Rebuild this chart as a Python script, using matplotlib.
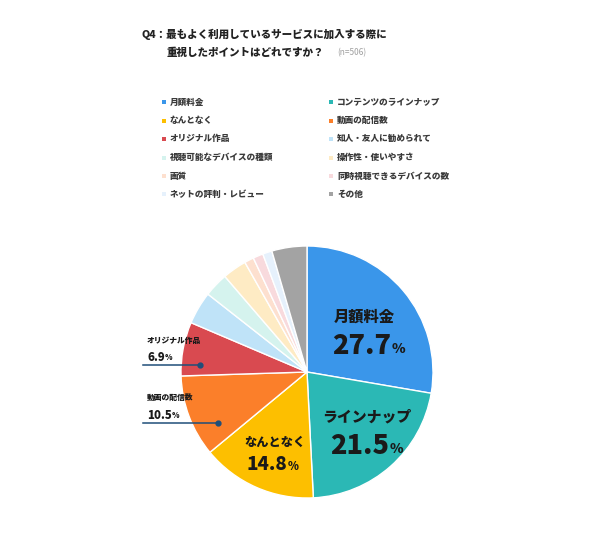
import matplotlib
matplotlib.use("Agg")
import matplotlib.pyplot as plt
from matplotlib.patches import Rectangle

plt.rcParams['font.family'] = ['Noto Sans CJK JP', 'DejaVu Sans']

# ---- data ----
categories = ["月額料金", "コンテンツのラインナップ", "なんとなく", "動画の配信数",
              "オリジナル作品", "知人・友人に勧められて", "視聴可能なデバイスの種類",
              "操作性・使いやすさ", "画質", "同時視聴できるデバイスの数",
              "ネットの評判・レビュー", "その他"]
values = [27.7, 21.5, 14.8, 10.5, 6.9, 4.2, 3.1, 3.1, 1.2, 1.3, 1.2, 4.5]
colors = ["#3a96ea", "#2bb8b5", "#fdbf00", "#fb7f2a", "#d94a50", "#bfe3f8",
          "#d5f3ee", "#feebc4", "#fde0cf", "#f8dadd", "#e6f1fc", "#a3a3a3"]
title1 = "Q4：最もよく利用しているサービスに加入する際に"
title2 = "重視したポイントはどれですか？"
n_note = "(n=506)"
inner_names = {0: "月額料金", 1: "ラインナップ", 2: "なんとなく"}
outer_names = {3: "動画の配信数", 4: "オリジナル作品"}

W, H = 600, 537
fig = plt.figure(figsize=(W / 100, H / 100), dpi=100)
fig.patch.set_facecolor("white")

def fx(x):
    return x / W

def fy(y):
    return 1 - y / H

# ---- title ----
fig.text(fx(142), fy(34), title1, fontsize=7.6, fontweight="heavy",
         color="#222222", ha="left", va="center")
fig.text(fx(167), fy(53), title2, fontsize=7.6, fontweight="heavy",
         color="#222222", ha="left", va="center")
fig.text(fx(337), fy(53), n_note, fontsize=6.0, color="#a0a0a0",
         ha="left", va="center")

# ---- legend (row-wise, 2 columns) ----
for i, (name, c) in enumerate(zip(categories, colors)):
    row, col = divmod(i, 2)
    y = 102 + 18.5 * row
    mx = 163.5 if col == 0 else 330.5
    tx = 170 if col == 0 else 337
    fig.patches.append(Rectangle((fx(mx - 2), fy(y + 2)), 4 / W, 4 / H,
                                 transform=fig.transFigure, facecolor=c,
                                 edgecolor="none"))
    fig.text(fx(tx), fy(y), name, fontsize=6.2, fontweight="heavy",
             color="#3a3a3a", ha="left", va="center")

# ---- pie ----
cx, cy, R = 307, 372, 126
ax = fig.add_axes([fx(cx - R), fy(cy + R), 2 * R / W, 2 * R / H])
ax.pie(values, colors=colors, startangle=90, counterclock=False,
       wedgeprops=dict(edgecolor="white", linewidth=1.0), radius=1.0)
ax.set_xlim(-1, 1)
ax.set_ylim(-1, 1)
ax.set_aspect("equal")
ax.axis("off")

def d(x, y):
    return ((x - cx) / R, (cy - y) / R)

def pct_text(pos, value, size, psize, ha="center"):
    t = ax.text(*pos, f"{value:.1f}", fontsize=size, fontweight="heavy",
                color="#1a1a1a", ha=ha, va="baseline", clip_on=False)
    ax.annotate("%", xy=(1, 0), xycoords=t,
                xytext=(0.3, 0.288 * (size - psize)),
                textcoords="offset points", fontsize=psize, fontweight="heavy",
                color="#1a1a1a", ha="left", va="bottom")
    return t

# inside labels
ax.text(*d(364, 317), inner_names[0], fontsize=11, fontweight="heavy",
        color="#1a1a1a", ha="center", va="center")
pct_text(d(362, 354), values[0], 19.5, 10)
ax.text(*d(367, 417), inner_names[1], fontsize=10.7, fontweight="heavy",
        color="#1a1a1a", ha="center", va="center")
pct_text(d(360, 454), values[1], 19.5, 10)
ax.text(*d(275, 442), inner_names[2], fontsize=8.8, fontweight="heavy",
        color="#1a1a1a", ha="center", va="center")
pct_text(d(267, 470), values[2], 13.5, 8)

# outside labels with leader lines
navy = "#1f4e79"
for idx, (ty, py, ly, dotx) in {4: (340, 361, 365, 200),
                                 3: (397, 419, 423, 218)}.items():
    ax.text(*d(147, ty), outer_names[idx], fontsize=5.6, fontweight="heavy",
            color="#1a1a1a", ha="left", va="center", clip_on=False)
    pct_text(d(147, py), values[idx], 8.2, 5.5, ha="left")
    x0, y0 = d(143, ly)
    x1, _ = d(dotx, ly)
    ax.plot([x0, x1], [y0, y0], color=navy, linewidth=1.1, clip_on=False)
    ax.plot([x1], [y0], marker="o", markersize=3.5, color=navy, clip_on=False)

fig.savefig("out.png", dpi=100, facecolor="white")
